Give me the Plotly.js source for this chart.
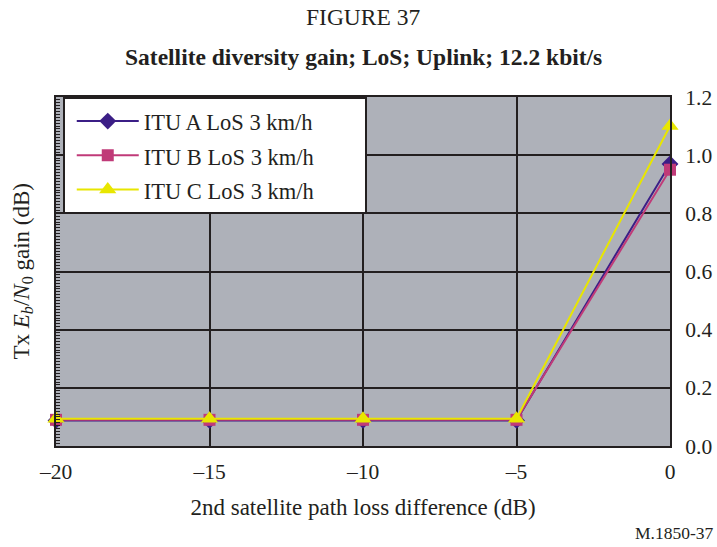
<!DOCTYPE html>
<html>
<head>
<meta charset="utf-8">
<script src="https://cdn.plot.ly/plotly-3.0.1.min.js"></script>
<style>html,body{margin:0;padding:0;background:#fff;}#chart{width:717px;height:547px;}</style>
</head>
<body>
<div id="chart"></div>
<script>
var pathLossDiff = [-20, -15, -10, -5, 0];
var ituA = [0.088, 0.088, 0.088, 0.088, 0.97];
var ituB = [0.09, 0.09, 0.09, 0.09, 0.95];
var ituC = [0.094, 0.094, 0.094, 0.094, 1.10];
var seriesNames = ['ITU A LoS 3 km/h', 'ITU B LoS 3 km/h', 'ITU C LoS 3 km/h'];
var xTickVals = [-20, -15, -10, -5, 0];
var xTickText = ['\u201320', '\u201315', '\u201310', '\u20135', '0'];
var yTickVals = [0, 0.2, 0.4, 0.6, 0.8, 1.0, 1.2];
var yTickText = ['0.0', '0.2', '0.4', '0.6', '0.8', '1.0', '1.2'];

var FONT = 'Liberation Serif, Times New Roman, serif';
var PAD = '\u00a0\u00a0\u00a0\u00a0\u00a0\u00a0\u00a0\u00a0';
function lbl(s){ return '<span style="font-size:22.5px">' + s + PAD + '</span>'; }

var traces = [
  {x: pathLossDiff, y: ituA, name: lbl(seriesNames[0]), mode: 'lines+markers', cliponaxis: false,
   line: {color: '#3B1E86', width: 2}, marker: {symbol: 'diamond', size: 13, color: '#3B1E86'}},
  {x: pathLossDiff, y: ituB, name: lbl(seriesNames[1]), mode: 'lines+markers', cliponaxis: false,
   line: {color: '#C03A78', width: 2}, marker: {symbol: 'square', size: 12, color: '#C03A78'}},
  {x: pathLossDiff, y: ituC, name: lbl(seriesNames[2]), mode: 'lines+markers', cliponaxis: false,
   line: {color: '#E8E600', width: 2}, marker: {symbol: 'triangle-up', size: 15, color: '#E8E600'}},
  {x: [pathLossDiff[0]], y: [0], yaxis: 'y2', mode: 'markers', marker: {opacity: 0}, showlegend: false, hoverinfo: 'skip'}
];

var layout = {
  width: 717, height: 547,
  margin: {l: 56, r: 47, t: 97, b: 101},
  paper_bgcolor: '#ffffff',
  plot_bgcolor: '#AEB1B9',
  font: {family: FONT, color: '#231f20', size: 21},
  showlegend: true,
  legend: {
    x: 0.011, y: 1, xanchor: 'left', yanchor: 'top',
    bgcolor: '#ffffff', bordercolor: '#231f20', borderwidth: 2,
    font: {family: FONT, size: 24, color: '#231f20'},
    itemwidth: 62, indentation: 7,
    itemclick: false
  },
  xaxis: {
    range: [-20, 0], tickvals: xTickVals, ticktext: xTickText,
    showgrid: true, gridcolor: '#231f20', gridwidth: 2,
    showline: true, linecolor: '#231f20', linewidth: 2, mirror: true,
    ticks: '', zeroline: false, ticklabelstandoff: 5,
    tickfont: {family: FONT, size: 21.5},
    title: {text: '2nd satellite path loss difference (dB)', font: {family: FONT, size: 23}, standoff: 16}
  },
  yaxis: {
    range: [0, 1.2], tickvals: yTickVals, ticktext: yTickText, side: 'right',
    showgrid: true, gridcolor: '#231f20', gridwidth: 2,
    showline: true, linecolor: '#231f20', linewidth: 2, mirror: true,
    ticks: '', zeroline: false, ticklabelstandoff: 9,
    tickfont: {family: FONT, size: 21.5}
  },
  yaxis2: {
    overlaying: 'y', side: 'left', range: [0, 1.2], dtick: 0.01, tick0: 0,
    ticks: 'inside', ticklen: 4, tickwidth: 1, tickcolor: '#231f20',
    showticklabels: false, showgrid: false, zeroline: false, showline: false
  },
  annotations: [
    {text: 'FIGURE 37', xref: 'paper', yref: 'paper', x: 0.5, y: 1, yshift: 80, showarrow: false,
     xanchor: 'center', yanchor: 'middle', font: {family: FONT, size: 23.5}},
    {text: '<b>Satellite diversity gain; LoS; Uplink; 12.2 kbit/s</b>', xref: 'paper', yref: 'paper', x: 0.5, y: 1, yshift: 40,
     showarrow: false, xanchor: 'center', yanchor: 'middle', font: {family: FONT, size: 23.5}},
    {text: 'Tx <i>E<sub>b</sub></i>/<i>N</i><sub>0</sub> gain (dB)', xref: 'paper', yref: 'paper', x: 0, xshift: -34, y: 0.5,
     textangle: -90, showarrow: false, xanchor: 'center', yanchor: 'middle', font: {family: FONT, size: 23}},
    {text: 'M.1850-37', xref: 'paper', yref: 'paper', x: 1, xshift: 46, y: 0, yshift: -87, showarrow: false,
     xanchor: 'right', yanchor: 'middle', font: {family: FONT, size: 17.5}}
  ]
};

Plotly.newPlot('chart', traces, layout, {displayModeBar: false, staticPlot: true});
</script>
</body>
</html>
